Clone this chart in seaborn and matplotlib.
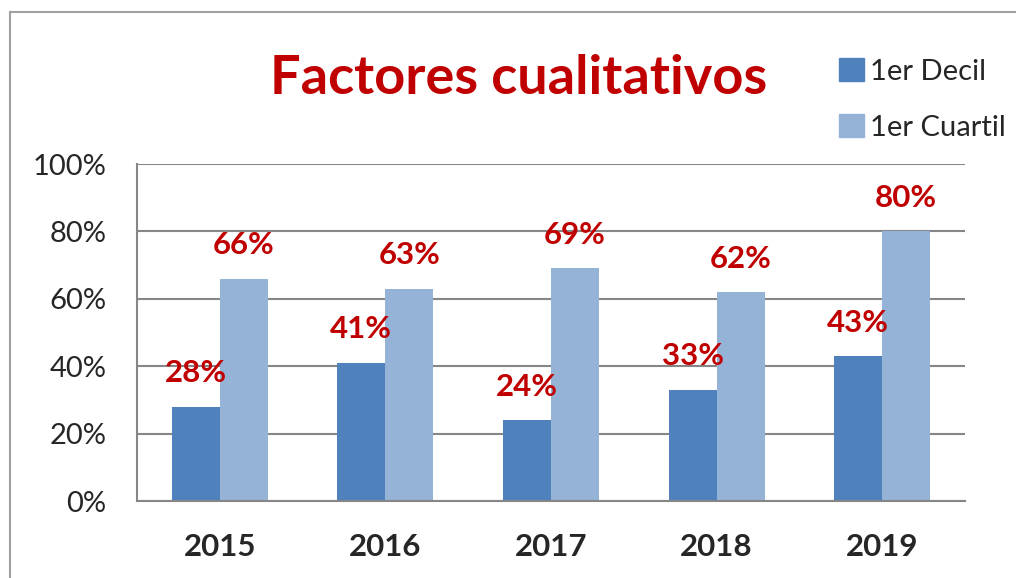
import matplotlib
matplotlib.use("Agg")
import matplotlib.pyplot as plt
import matplotlib.patches as mpatches
import pandas as pd
import seaborn as sns

years = ["2015", "2016", "2017", "2018", "2019"]
decil = [28, 41, 24, 33, 43]
cuartil = [66, 63, 69, 62, 80]
series_names = ["1er Decil", "1er Cuartil"]
yticks = [0, 20, 40, 60, 80, 100]

df = pd.DataFrame({
    "year": years * 2,
    "value": decil + cuartil,
    "serie": [series_names[0]] * len(years) + [series_names[1]] * len(years),
})

sns.set_style("white")
plt.rcParams['font.family'] = ['Lato', 'DejaVu Sans']

fig = plt.figure(figsize=(10.16, 5.78), dpi=100)
ax = fig.add_axes([0.1348, 0.1332, 0.815, 0.583])

palette = {"1er Decil": "#4F81BD", "1er Cuartil": "#95B3D7"}
sns.barplot(data=df, x="year", y="value", hue="serie", palette=palette,
            width=0.58, gap=0, saturation=1, linewidth=0, ax=ax, legend=False)

ax.set_ylim(0, 100)
ax.set_yticks(yticks)
ax.set_yticklabels([f"{t}%" for t in yticks], fontsize=21)
ax.set_xlabel("")
ax.set_ylabel("")
for lab in ax.get_xticklabels():
    lab.set_fontweight("bold")
    lab.set_fontsize(22.5)
ax.tick_params(axis="y", length=0, pad=22)
ax.tick_params(axis="x", length=0, pad=23)
ax.yaxis.grid(True, color="#868686", linewidth=1.5)
ax.set_axisbelow(True)
for s in ["top", "right"]:
    ax.spines[s].set_visible(False)
for s in ["left", "bottom"]:
    ax.spines[s].set_color("#868686")
    ax.spines[s].set_linewidth(1.5)

for cont in ax.containers:
    ax.bar_label(cont, labels=[f"{v:.0f}%" for v in cont.datavalues],
                 padding=14, color="#C00000", fontweight="bold", fontsize=22.5)

fig.text(0.51, 0.865, "Factores cualitativos", ha="center", va="center",
         color="#C00000", fontweight="bold", fontsize=39)

handles = [mpatches.Patch(color=palette[n], label=n) for n in series_names]
fig.legend(handles=handles, loc="upper left", bbox_to_anchor=(0.8, 0.945),
           frameon=False, fontsize=21, handlelength=0.85, handleheight=0.85,
           handletextpad=0.2, labelspacing=1.0)

border = mpatches.Rectangle((10 / 1016, -0.1), 1.2, (578 - 12) / 578 + 0.1,
                            transform=fig.transFigure, fill=False,
                            edgecolor="#A0A0A0", linewidth=1.5)
fig.patches.append(border)

fig.savefig("out.png", dpi=100)
